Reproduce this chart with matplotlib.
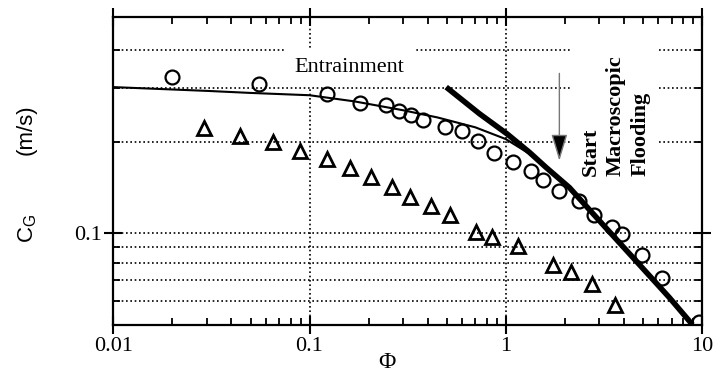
import numpy as np
import matplotlib
matplotlib.use('Agg')
import matplotlib.pyplot as plt
from matplotlib.ticker import FixedLocator, FuncFormatter, NullFormatter

plt.rcParams['font.family'] = ['Liberation Serif', 'DejaVu Serif']
plt.rcParams['mathtext.default'] = 'regular'

# open circles (entrainment data)
phi_circ = [0.020, 0.055, 0.122, 0.180, 0.244, 0.286, 0.330, 0.378, 0.493, 0.597,
            0.726, 0.876, 1.085, 1.346, 1.543, 1.876, 2.353, 2.828, 3.479, 3.91,
            4.94, 6.25, 9.68]
cg_circ = [0.326, 0.310, 0.287, 0.2675, 0.263, 0.253, 0.245, 0.236, 0.224, 0.216,
           0.2015, 0.184, 0.171, 0.160, 0.150, 0.138, 0.128, 0.115, 0.105, 0.0997,
           0.0848, 0.0714, 0.051]

# open triangles
phi_tri = [0.0291, 0.0442, 0.065, 0.0897, 0.122, 0.160, 0.205, 0.263, 0.326, 0.417,
           0.521, 0.702, 0.853, 1.151, 1.734, 2.153, 2.754, 3.615]
cg_tri = [0.2225, 0.2094, 0.1997, 0.1858, 0.1754, 0.1642, 0.1525, 0.142, 0.1317, 0.123,
          0.1147, 0.101, 0.0972, 0.0908, 0.0786, 0.0747, 0.0682, 0.0583]

# thin entrainment curve
phi_entr = [0.01, 0.03, 0.05, 0.1, 0.17, 0.3, 0.45, 0.7, 1.0, 1.3, 1.6]
cg_entr = [0.302, 0.2935, 0.289, 0.284, 0.271, 0.2535, 0.240, 0.2228, 0.2039, 0.1836, 0.1645]

# thick flooding line
phi_flood = [0.497, 0.734, 1.016, 1.32, 1.606, 2.109, 3.116, 4.61, 6.81, 8.95]
cg_flood = [0.302, 0.247, 0.212, 0.1845, 0.1645, 0.1414, 0.1071, 0.0812, 0.0616, 0.0501]

x_ticks = [0.01, 0.1, 1, 10]
y_minor = [0.06, 0.07, 0.08, 0.09, 0.2, 0.3, 0.4]

fig = plt.figure(figsize=(7.13, 3.74), dpi=100)
ax = fig.add_axes([0.159, 0.131, 0.8255, 0.8235])
ax.set_xscale('log')
ax.set_yscale('log')
ax.set_xlim(0.01, 10)
ax.set_ylim(0.05, 0.513)

dots = (0, (1, 1.6))
ax.set_axisbelow(True)
ax.yaxis.set_minor_locator(FixedLocator(y_minor))
ax.yaxis.set_major_locator(FixedLocator([0.1]))
ax.xaxis.set_major_locator(FixedLocator(x_ticks))
ax.yaxis.grid(True, which='both', color='black', linestyle=dots, lw=1.2)
ax.xaxis.grid(True, which='major', color='black', linestyle=dots, lw=1.2)

ax.plot(phi_entr, cg_entr, color='black', lw=1.5, zorder=3)
ax.plot(phi_flood, cg_flood, color='black', lw=4.0, solid_capstyle='butt', zorder=3)
ax.plot(phi_circ, cg_circ, 'o', ms=10, mfc='none', mec='black', mew=1.6, zorder=4)
ax.plot(phi_tri, cg_tri, '^', ms=9.5, mfc='none', mec='black', mew=2.0, zorder=4)

ax.text(0.16, 0.351, 'Entrainment', fontsize=16, ha='center', va='center',
        bbox=dict(boxstyle='square,pad=0.45', fc='white', ec='none'), zorder=1.5)
ax.text(3.62, 0.1545, 'Start\nMacroscopic\nFlooding', fontsize=16, fontweight='bold',
        rotation=90, ha='center', va='bottom', multialignment='left',
        linespacing=1.32,
        bbox=dict(boxstyle='square,pad=0.4', fc='white', ec='none'), zorder=1.5)

# gray shaft, black head
ax.annotate('', xy=(1.876, 0.173), xytext=(1.876, 0.335),
            arrowprops=dict(arrowstyle='-|>,head_length=0.66,head_width=0.2',
                            mutation_scale=25, fc='black', ec='#777777',
                            lw=1.0, shrinkA=0, shrinkB=0), zorder=3)

for s in ax.spines.values():
    s.set_linewidth(1.6)
ax.tick_params(which='major', direction='inout', length=13, width=1.5,
               top=True, right=True, labelsize=16, pad=2)
ax.tick_params(which='minor', direction='in', length=5, width=1.3,
               top=True, right=True)
ax.xaxis.set_major_formatter(FuncFormatter(lambda v, p: f'{v:g}'))
ax.yaxis.set_major_formatter(FuncFormatter(lambda v, p: f'{v:g}'))
ax.yaxis.set_minor_formatter(NullFormatter())

ax.set_xlabel('Φ', fontsize=17, x=0.465, labelpad=-3)
ax.text(-0.145, 0.315, 'C$_G$', transform=ax.transAxes, rotation=90,
        fontsize=16, family='Liberation Sans', ha='center', va='center')
ax.text(-0.148, 0.633, '(m/s)', transform=ax.transAxes, rotation=90,
        fontsize=16, family='Liberation Sans', ha='center', va='center')

fig.savefig('out.png', dpi=100)
